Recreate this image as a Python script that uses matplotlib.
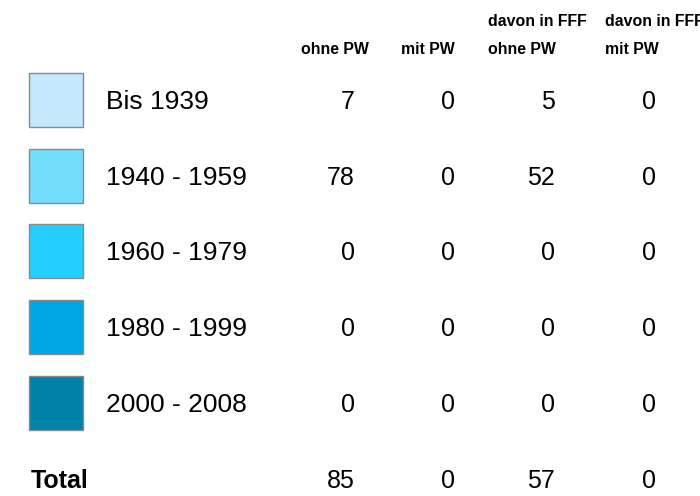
import matplotlib
matplotlib.use("Agg")
import matplotlib.pyplot as plt
from matplotlib.patches import Rectangle

plt.rcParams['font.family'] = ['Liberation Sans', 'DejaVu Sans']

# data
periods = ["Bis 1939", "1940 - 1959", "1960 - 1979", "1980 - 1999", "2000 - 2008"]
colors = ["#C4E8FD", "#73DEFC", "#22CFFF", "#00A7E4", "#0082A8"]
ohne_pw = [7, 78, 0, 0, 0]
mit_pw = [0, 0, 0, 0, 0]
fff_ohne_pw = [5, 52, 0, 0, 0]
fff_mit_pw = [0, 0, 0, 0, 0]
header_top = ["", "", "davon in FFF", "davon in FFF"]
header_bottom = ["ohne PW", "mit PW", "ohne PW", "mit PW"]

columns = [ohne_pw, mit_pw, fff_ohne_pw, fff_mit_pw]

fig = plt.figure(figsize=(7, 4.96), dpi=100)
ax = fig.add_axes([0, 0, 1, 1])
ax.set_xlim(0, 700)
ax.set_ylim(496, 0)
ax.set_axis_off()

row_y0 = 100
row_step = 75.7
col_right = [355, 455, 555, 656]
head_left = [301, 401, 488, 605]
dy = 2  # text baseline nudge

for i, name in enumerate(periods):
    y = row_y0 + i * row_step
    ax.add_patch(Rectangle((29, y - 27), 54, 54, facecolor=colors[i],
                           edgecolor="#8a8a8a", linewidth=1))
    ax.text(106, y + dy, name, fontsize=19, va="center", ha="left")
    for j, col in enumerate(columns):
        ax.text(col_right[j], y + dy, str(col[i]), fontsize=18, va="center", ha="right")

total_y = row_y0 + 5 * row_step + 1
ax.text(31, total_y + dy, "Total", fontsize=18, fontweight="bold", va="center", ha="left")
for j, col in enumerate(columns):
    ax.text(col_right[j], total_y + dy, str(sum(col)), fontsize=18, va="center", ha="right")

for j in range(4):
    if header_top[j]:
        ax.text(head_left[j], 21, header_top[j], fontsize=11.4, fontweight="bold",
                va="center", ha="left")
    ax.text(head_left[j], 50, header_bottom[j], fontsize=11.4, fontweight="bold",
            va="center", ha="left")

fig.savefig("out.png", dpi=100)
